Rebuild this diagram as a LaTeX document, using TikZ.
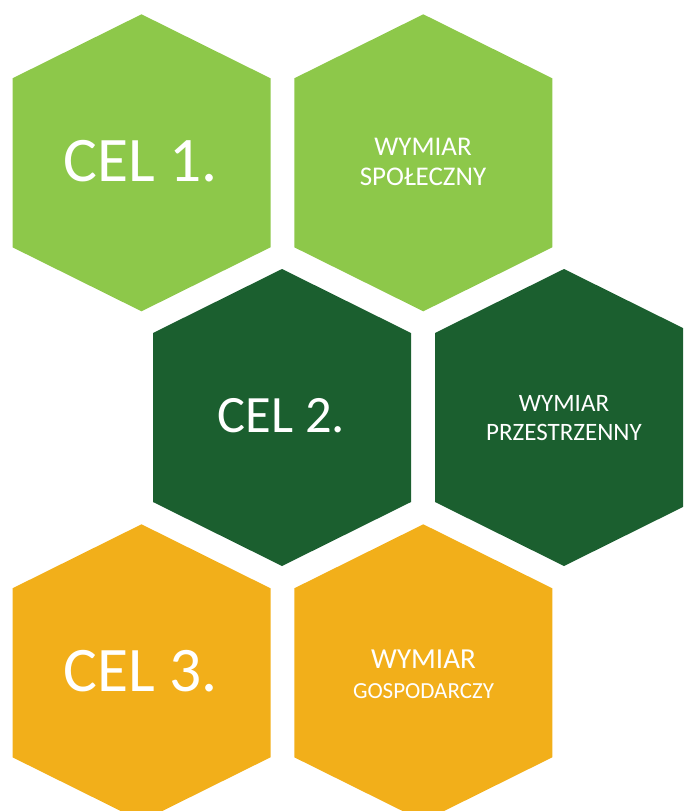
\documentclass[tikz,border=0pt]{standalone}
\usepackage{fontspec}
\setmainfont{Carlito}
\definecolor{lgreen}{HTML}{8DC84A}
\definecolor{dgreen}{HTML}{1B5F2F}
\definecolor{amber}{HTML}{F2AF1A}
\newcommand{\hexat}[4]{%
  \fill[#3] (#1,#2) -- ++(129,64) -- ++(0,169) -- ++(-129,64) -- ++(-129,-64) -- ++(0,-169) -- cycle;
  \coordinate (#4) at (#1,#2+148.5);}
\tikzset{lbl/.style={text=white, inner sep=0pt, anchor=base}}
\begin{document}
\begin{tikzpicture}[x=1pt,y=-1pt]
\useasboundingbox (0,0) rectangle (683,811);
\clip (0,0) rectangle (683,811);
\hexat{141.5}{14.3}{lgreen}{h1}
\hexat{423.3}{14.3}{lgreen}{h2}
\hexat{282}{269}{dgreen}{h3}
\hexat{564}{269}{dgreen}{h4}
\hexat{141.5}{524.3}{amber}{h5}
\hexat{423.3}{524.3}{amber}{h6}
\node[lbl, font=\fontsize{63.5}{68}\selectfont] (t1) at (140.5,181.7) {CEL 1.};
\node[lbl, font=\fontsize{52.5}{58}\selectfont] (t3) at (281.5,432.7) {CEL 2.};
\node[lbl, font=\fontsize{63.5}{68}\selectfont] (t5) at (140.5,691.7) {CEL 3.};
\node[lbl, font=\fontsize{27}{30}\selectfont] (t2a) at (423,155) {WYMIAR};
\node[lbl, font=\fontsize{27}{30}\selectfont] (t2b) at (423,185.7) {SPOŁECZNY};
\node[lbl, font=\fontsize{25}{28}\selectfont] (t4a) at (564,411.7) {WYMIAR};
\node[lbl, font=\fontsize{25}{28}\selectfont] (t4b) at (564,440) {PRZESTRZENNY};
\node[lbl, font=\fontsize{29}{32}\selectfont] (t6a) at (423.5,668.3) {WYMIAR};
\node[lbl, font=\fontsize{23}{26}\selectfont] (t6b) at (423.5,698.3) {GOSPODARCZY};
\end{tikzpicture}
\end{document}
